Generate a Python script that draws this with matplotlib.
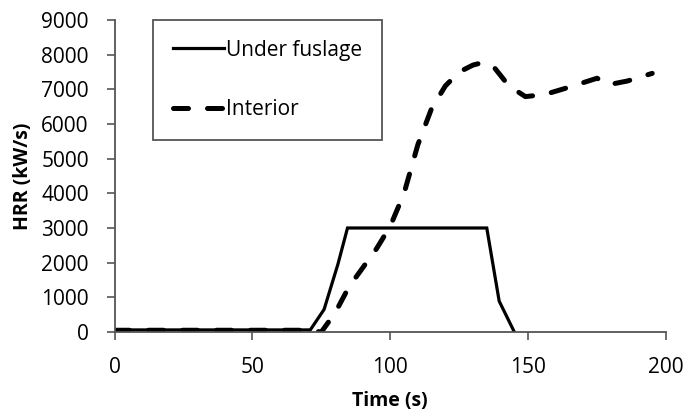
import matplotlib
matplotlib.use("Agg")
from matplotlib import pyplot as plt

# data
under_t = [0, 71, 76, 81, 84.5, 135, 139.5, 145]
under_hrr = [60, 60, 650, 1950, 3000, 3000, 890, 0]

interior_t = [0, 70, 75, 80, 85, 90, 95, 100, 105, 110, 115, 120, 125, 130,
              134, 138, 143, 149, 156, 164, 175, 179, 186, 195]
interior_hrr = [50, 50, 0, 550, 1300, 1850, 2400, 3050, 4000, 5400, 6450,
                7100, 7500, 7700, 7780, 7600, 7100, 6790, 6850, 7040, 7320,
                7130, 7240, 7460]

x_ticks = [0, 50, 100, 150, 200]
y_ticks = list(range(0, 9001, 1000))

plt.rcParams["font.family"] = ["Open Sans", "DejaVu Sans"]

fig = plt.figure(figsize=(6.84, 4.12), dpi=100)
ax = fig.add_axes([0.1674, 0.1942, 0.8063, 0.7573])

ax.plot(under_t, under_hrr, color="black", lw=2.3, label="Under fuslage",
        solid_joinstyle="miter")
ax.plot(interior_t, interior_hrr, color="black", lw=3.6, label="Interior",
        dashes=(3, 3.8), dash_capstyle="round")

ax.set_xlim(0, 200)
ax.set_ylim(0, 9000)
ax.set_xticks(x_ticks)
ax.set_yticks(y_ticks)
ax.tick_params(labelsize=15, direction="out", length=5.5, color="#555555",
               width=1.2)
ax.tick_params(axis="x", pad=12.5)
ax.tick_params(axis="y", pad=13)
for side in ["top", "right"]:
    ax.spines[side].set_visible(False)
for side in ["left", "bottom"]:
    ax.spines[side].set_color("#555555")
    ax.spines[side].set_linewidth(1.3)

ax.set_xlabel("Time (s)", fontsize=14, fontweight="bold", va="center")
ax.set_ylabel("HRR (kW/s)", fontsize=14, fontweight="bold", va="center")
ax.xaxis.set_label_coords(0.5, -0.221)
ax.yaxis.set_label_coords(-0.166, 0.5)

leg = ax.legend(loc="upper left", bbox_to_anchor=(0.0695, 1.0), fontsize=15,
                handlelength=2.45, handletextpad=0.1, labelspacing=1.85,
                borderpad=0.95, borderaxespad=0, fancybox=False,
                framealpha=1)
leg.get_frame().set_edgecolor("#555555")
leg.get_frame().set_linewidth(1.3)

fig.savefig("out.png", dpi=100)
